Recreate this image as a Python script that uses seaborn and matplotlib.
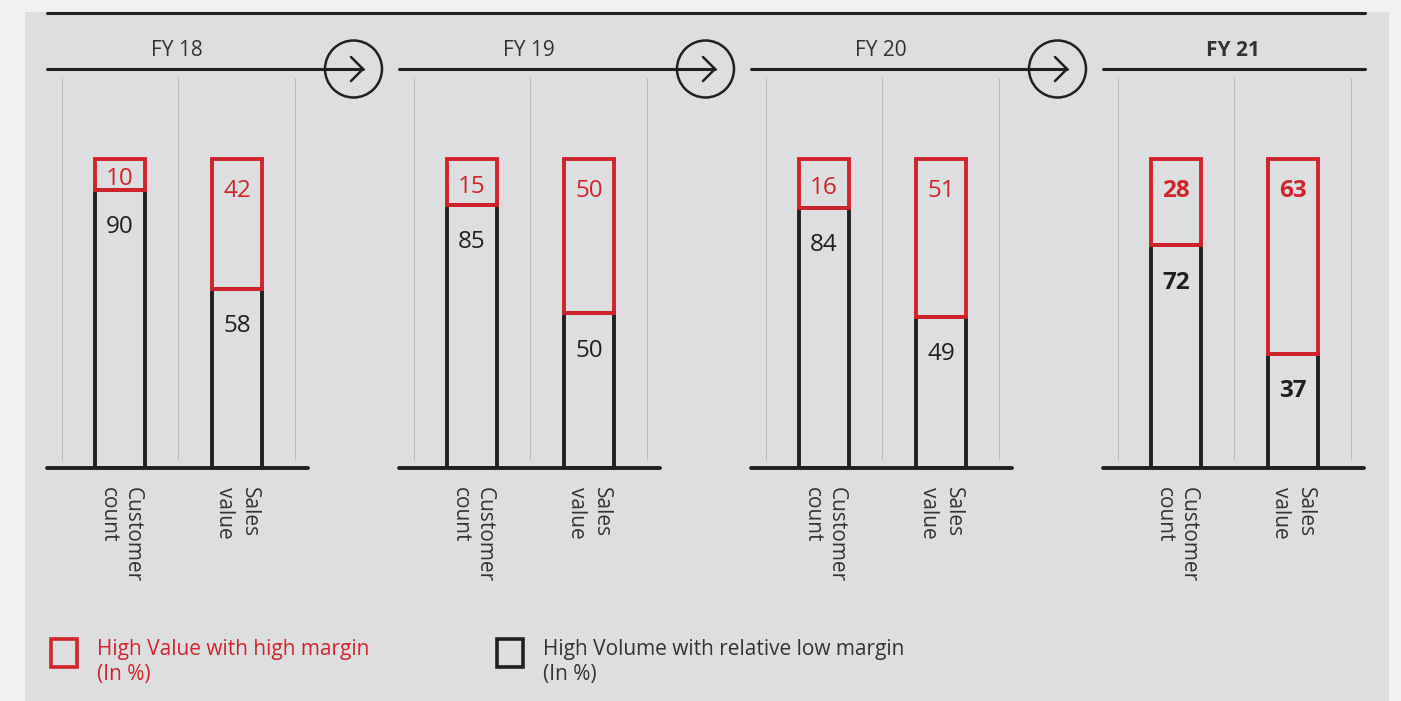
import pandas as pd
import matplotlib
matplotlib.use('Agg')
import matplotlib.pyplot as plt
from matplotlib.patches import Circle, Rectangle
import seaborn as sns

# data
years = ['FY 18', 'FY 19', 'FY 20', 'FY 21']
metrics = ['Customer\ncount', 'Sales\nvalue']
high_value = [[10, 42], [15, 50], [16, 51], [28, 63]]
high_volume = [[90, 58], [85, 50], [84, 49], [72, 37]]
legend_labels = ['High Value with high margin\n(In %)',
                 'High Volume with relative low margin\n(In %)']

RED = '#d2232a'
DARK = '#231f20'
TXT = '#333333'

sns.set_theme(style='white')
plt.rcParams['font.family'] = ['Open Sans', 'DejaVu Sans']

W, H = 1401, 701
fig = plt.figure(figsize=(W / 100, H / 100), dpi=100, facecolor='#f1f1f1')

# backdrop drawn in pixel coordinates
bg = fig.add_axes([0, 0, 1, 1], zorder=0)
bg.set_xlim(0, W)
bg.set_ylim(H, 0)
bg.axis('off')
bg.add_patch(Rectangle((25, 12), 1364, 700, color='#dddee0', lw=0))
bg.plot([47, 1365], [13, 13], color=DARK, lw=2.2)

step = 352
for i, yr in enumerate(years):
    x0 = 47 + step * i
    bold = 'bold' if i == 3 else 'normal'
    bg.text(x0 + 130, 50, yr, ha='center', va='center', fontsize=15,
            color=TXT, fontweight=bold)
    end = x0 + 316 if i < 3 else x0 + 262
    bg.plot([x0, end], [69, 69], color=DARK, lw=2.2)
    if i < 3:
        bg.add_patch(Circle((x0 + 306.5, 69), 28.5, fill=False, ec=DARK, lw=1.8))
        bg.plot([x0 + 304, x0 + 316, x0 + 304], [57, 69, 81], color=DARK, lw=1.8)

    # panel axes
    ax = fig.add_axes([x0 / W, (H - 468) / H, 261 / W, 390 / H], zorder=2)
    ax.set_facecolor('none')
    df = pd.DataFrame({'metric': metrics, 'volume': high_volume[i],
                       'value': high_value[i]})
    sns.barplot(data=df, x='metric', y='volume', color=DARK, fill=False,
                linewidth=2.8, width=0.42, errorbar=None, ax=ax)
    sns.barplot(data=df, x='metric', y='value', bottom=df['volume'], color=RED,
                fill=False, linewidth=2.8, width=0.42, errorbar=None, ax=ax)
    ax.set_xlim(-0.624, 1.607)
    ax.set_ylim(0, 126.2)
    ax.vlines([-0.5, 0.5, 1.5], 2.5, 126.2, color='#bcbcbc', lw=0.8, zorder=0)
    ax.axhline(0, color=DARK, lw=2.8, clip_on=False, zorder=5)
    for j in range(2):
        v = high_value[i][j]
        ax.text(j, 100 - min(v / 2 + 1.5, 10.3), str(v), ha='center',
                va='center', fontsize=17.5, color=RED, fontweight=bold)
        b = high_volume[i][j]
        ax.text(j, b - 12, str(b), ha='center', va='center',
                fontsize=17.5, color=DARK, fontweight=bold)
    ax.set_xticks([0, 1])
    ax.set_xticklabels(metrics, rotation=-90, ha='center', va='top',
                       multialignment='left', fontsize=15, color=TXT)
    ax.tick_params(axis='x', length=0, pad=14)
    ax.set_yticks([])
    ax.set_xlabel('')
    ax.set_ylabel('')
    for s in ax.spines.values():
        s.set_visible(False)

# legend
for k, (lab, col) in enumerate(zip(legend_labels, [RED, DARK])):
    lx = 51 + 446 * k
    bg.add_patch(Rectangle((lx, 639), 26, 28, fill=False, ec=col, lw=2.6))
    bg.text(lx + 46, 662, lab, ha='left', va='center', fontsize=15,
            color=col if k == 0 else TXT, linespacing=1.25)

fig.savefig('out.png', dpi=100, facecolor=fig.get_facecolor())
